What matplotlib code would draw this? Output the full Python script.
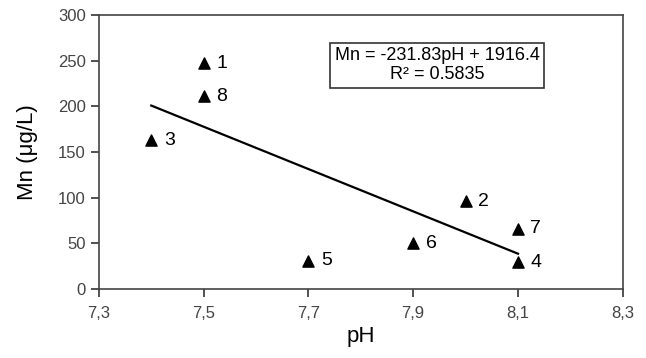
import numpy as np
import matplotlib
matplotlib.use("Agg")
import matplotlib.pyplot as plt

plt.rcParams['font.family'] = ['Liberation Sans', 'DejaVu Sans']

# sample data
sample_ids = ["1", "8", "3", "5", "6", "2", "7", "4"]
ph = [7.5, 7.5, 7.4, 7.7, 7.9, 8.0, 8.1, 8.1]
mn = [247, 211, 163, 31, 50, 96, 66, 29]

# fitted line as printed on the chart
slope = -231.83
intercept = 1916.4
r2 = 0.5835

x_ticks = [7.3, 7.5, 7.7, 7.9, 8.1, 8.3]
y_ticks = [0, 50, 100, 150, 200, 250, 300]


def plotter():
    fig = plt.figure(figsize=(6.46, 3.58), dpi=100)
    ax = fig.add_axes([0.153, 0.193, 0.811, 0.765])

    ax.scatter(ph, mn, marker="^", s=65, color="black", zorder=3)
    for label, x, y in zip(sample_ids, ph, mn):
        ax.annotate(label, (x, y), xytext=(9, 0), textcoords="offset points",
                    ha="left", va="center", fontsize=14)

    fit_x = np.array([min(ph), max(ph)])
    ax.plot(fit_x, slope * fit_x + intercept, color="black", lw=1.6)

    ax.text(7.946, 245, f"Mn = {slope}pH + {intercept}\nR² = {r2}",
            ha="center", va="center", fontsize=13, linespacing=1.15,
            bbox=dict(boxstyle="square,pad=0.25", fc="white", ec="#333333", lw=1.2))

    ax.set_xlim(7.3, 8.3)
    ax.set_ylim(0, 300)
    ax.set_xticks(x_ticks)
    ax.set_xticklabels([f"{t:.1f}".replace(".", ",") for t in x_ticks])
    ax.set_yticks(y_ticks)
    ax.tick_params(direction="out", length=6, width=1.2, labelsize=12,
                   labelcolor="#444444", color="#333333")
    ax.tick_params(axis="x", pad=6)
    for sp in ax.spines.values():
        sp.set_color("#444444")
        sp.set_linewidth(1.2)

    ax.set_xlabel("pH", fontsize=16, labelpad=4)
    ax.set_ylabel("Mn (μg/L)", fontsize=16, labelpad=14)

    fig.savefig("out.png", dpi=100)


if __name__ == "__main__":
    plotter()
